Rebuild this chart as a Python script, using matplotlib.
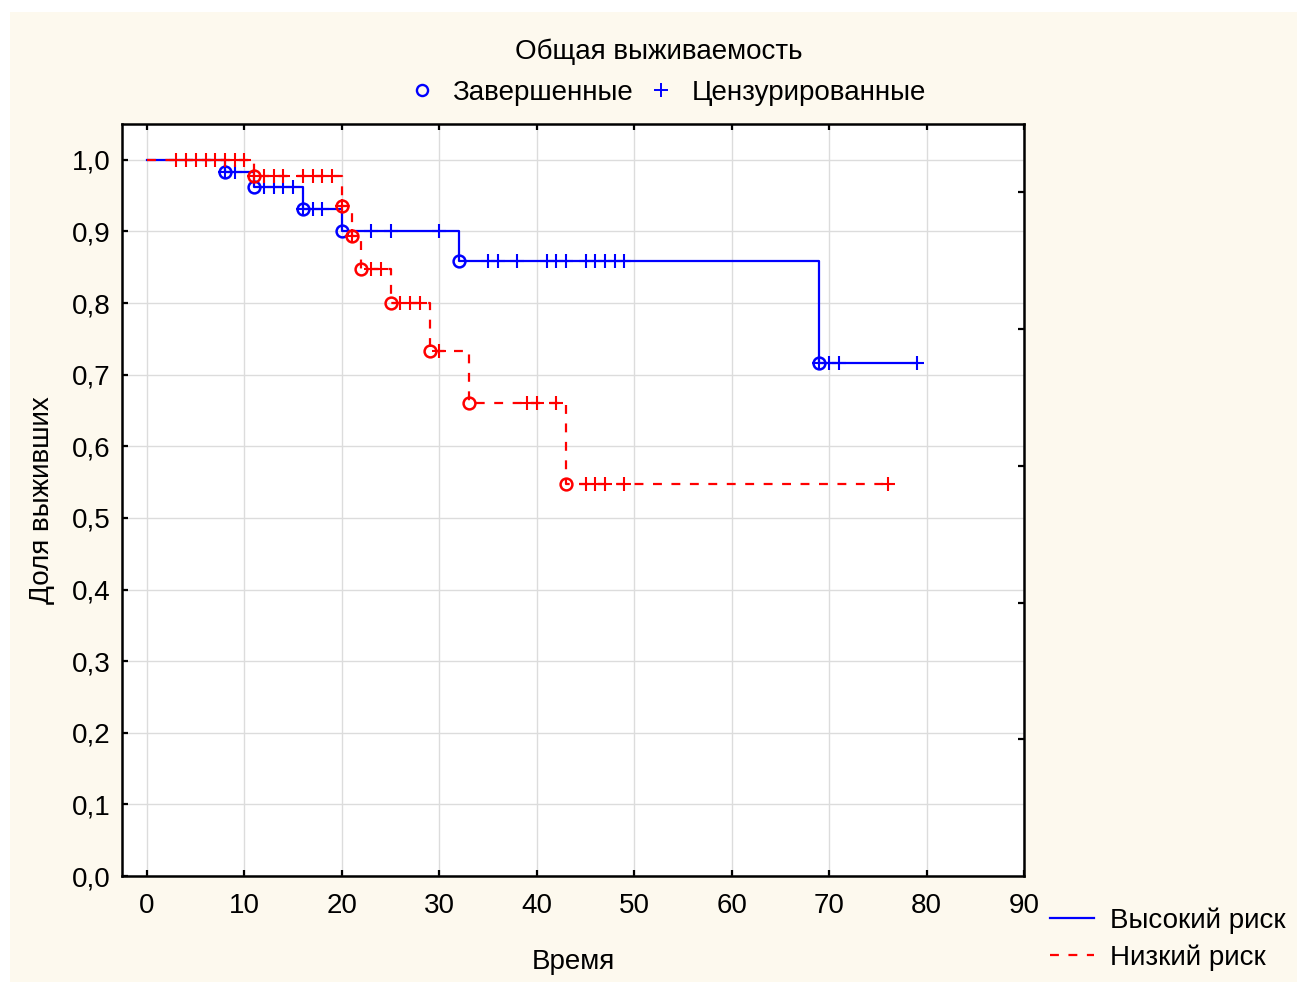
import matplotlib
matplotlib.use("Agg")
import matplotlib.pyplot as plt
from matplotlib.lines import Line2D
from matplotlib.patches import Rectangle

plt.rcParams['font.family'] = ['Liberation Sans', 'DejaVu Sans']

# Kaplan-Meier step curves: event times and survival after each step
high_times = [0, 8, 11, 16, 20, 32, 69, 79]
high_surv = [1.0, 0.983, 0.962, 0.931, 0.901, 0.859, 0.716, 0.716]
low_times = [0, 11, 20, 21, 22, 25, 29, 33, 43, 76]
low_surv = [1.0, 0.977, 0.935, 0.893, 0.847, 0.800, 0.733, 0.660, 0.548, 0.548]

# completed (event) points
high_event_t = [8, 11, 16, 20, 32, 69]
high_event_s = [0.983, 0.962, 0.931, 0.901, 0.859, 0.716]
low_event_t = [11, 20, 21, 22, 25, 29, 33, 43]
low_event_s = [0.977, 0.935, 0.893, 0.847, 0.800, 0.733, 0.660, 0.548]

# censored observations
high_cens_t = [8, 9, 12, 13, 14, 15, 16, 17, 18, 23, 25, 30,
               35, 36, 38, 41, 42, 43, 45, 46, 47, 48, 49, 69, 70, 71, 79]
high_cens_s = [0.983, 0.983, 0.962, 0.962, 0.962, 0.962, 0.931, 0.931, 0.931,
               0.901, 0.901, 0.901,
               0.859, 0.859, 0.859, 0.859, 0.859, 0.859, 0.859, 0.859, 0.859,
               0.859, 0.859, 0.716, 0.716, 0.716, 0.716]
low_cens_t = [3, 4, 5, 6, 7, 8, 9, 10, 11, 12, 13, 14, 16, 17, 18, 19, 20, 21,
              23, 24, 26, 27, 28, 30, 39, 40, 42, 45, 46, 47, 49, 76]
low_cens_s = [1.0] * 8 + [0.977] * 8 + [0.935, 0.893, 0.847, 0.847,
              0.800, 0.800, 0.800, 0.733, 0.660, 0.660, 0.660,
              0.548, 0.548, 0.548, 0.548, 0.548]

x_ticks = [0, 10, 20, 30, 40, 50, 60, 70, 80, 90]
y_ticks = [0.0, 0.1, 0.2, 0.3, 0.4, 0.5, 0.6, 0.7, 0.8, 0.9, 1.0]
y_ticklabels = ['0,0', '0,1', '0,2', '0,3', '0,4', '0,5', '0,6', '0,7', '0,8', '0,9', '1,0']

BLUE = '#0000ff'
RED = '#ff0000'
CREAM = '#fdf9ee'
FS = 20
DASH = (0, (4, 4.3))

W, H = 1297, 982
fig = plt.figure(figsize=(W / 100, H / 100), dpi=100)
fig.patch.set_facecolor('white')
fig.patches.append(Rectangle((10 / W, 0), 1, 1 - 12 / H, transform=fig.transFigure,
                             facecolor=CREAM, edgecolor='none', zorder=-10))

ax = fig.add_axes([122 / W, 1 - 876 / H, (1024 - 122) / W, (876 - 124) / H])
ax.set_facecolor('white')
ax.set_xlim(-2.57, 90)
ax.set_ylim(0, 1.05)
ax.set_xticks(x_ticks)
ax.set_xticklabels([str(v) for v in x_ticks])
ax.set_yticks(y_ticks)
ax.set_yticklabels(y_ticklabels)
ax.grid(True, color='#dcdcdc', linewidth=1.0)
ax.set_axisbelow(True)
ax.tick_params(axis='both', direction='in', length=4, width=1.6, labelsize=FS,
               top=True, right=False)
ax.tick_params(axis='x', pad=12)
ax.tick_params(axis='y', pad=8)
for s in ax.spines.values():
    s.set_linewidth(1.8)
    s.set_color('black')

# right side helper scale with unlabeled ticks
axr = ax.twinx()
axr.set_ylim(0, 5.5)
axr.set_yticks([1, 2, 3, 4, 5])
axr.set_yticklabels([])
axr.tick_params(axis='y', direction='in', length=4, width=1.6)
for s in axr.spines.values():
    s.set_visible(False)

lw = 1.6
ax.step(high_times, high_surv, where='post', color=BLUE, lw=lw, zorder=3)
ax.step(low_times, low_surv, where='post', color=RED, lw=lw, ls=DASH, zorder=4)

ax.plot(high_event_t, high_event_s, ls='none', marker='o', ms=8.5, mfc='none',
        mec=BLUE, mew=1.8, zorder=5)
ax.plot(high_cens_t, high_cens_s, ls='none', marker='+', ms=10, mec=BLUE,
        mew=1.5, zorder=5)
ax.plot(low_event_t, low_event_s, ls='none', marker='o', ms=8.5, mfc='none',
        mec=RED, mew=1.8, zorder=6)
ax.plot(low_cens_t, low_cens_s, ls='none', marker='+', ms=10, mec=RED,
        mew=1.5, zorder=6)

ax.set_xlabel('Время', fontsize=FS, labelpad=22)
ax.set_ylabel('Доля выживших', fontsize=FS, labelpad=12)

fig.text(659 / W, 1 - 52 / H, 'Общая выживаемость', ha='center', va='center', fontsize=FS)

top_handles = [
    Line2D([], [], ls='none', marker='o', ms=8, mfc='none', mec=BLUE, mew=1.7),
    Line2D([], [], ls='none', marker='+', ms=10, mec=BLUE, mew=1.4),
]
fig.legend(top_handles, ['Завершенные', 'Цензурированные'], ncol=2,
           loc='center', bbox_to_anchor=(667 / W, 1 - 93 / H), frameon=False,
           fontsize=FS, handlelength=1.0, handletextpad=0.6, columnspacing=0.5)

bottom_handles = [
    Line2D([], [], color=BLUE, lw=1.6),
    Line2D([], [], color=RED, lw=1.6, ls=DASH),
]
fig.legend(bottom_handles, ['Высокий риск', 'Низкий риск'],
           loc='upper left', bbox_to_anchor=(1050 / W, 1 - 907 / H), frameon=False,
           fontsize=FS, handlelength=1.6, handletextpad=0.55, labelspacing=0.4,
           borderaxespad=0, borderpad=0)

fig.savefig('out.png', dpi=100, facecolor=fig.get_facecolor())
